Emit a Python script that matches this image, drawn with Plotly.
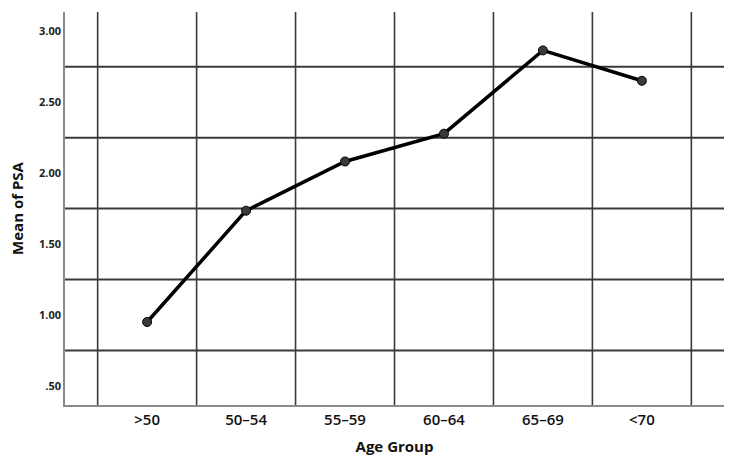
import plotly.graph_objects as go

categories = [">50", "50–54", "55–59", "60–64", "65–69", "<70"]
mean_psa = [0.95, 1.735, 2.082, 2.278, 2.865, 2.651]
y_tick_vals = [0.5, 1.0, 1.5, 2.0, 2.5, 3.0]
y_tick_text = [".50", "1.00", "1.50", "2.00", "2.50", "3.00"]
y_grid_vals = [0.75, 1.25, 1.75, 2.25, 2.75]

x_idx = list(range(len(categories)))
x_grid_vals = [i - 0.5 for i in range(len(categories) + 1)]

fig = go.Figure()
fig.add_trace(go.Scatter(
    x=x_idx, y=mean_psa, mode="lines+markers",
    line=dict(color="black", width=3.5),
    marker=dict(size=9, color="#3a3a3a", line=dict(color="black", width=1)),
    showlegend=False, hoverinfo="skip",
))

grid_color = "#3a3a3a"
shapes = []
for xv in x_grid_vals:
    shapes.append(dict(type="line", xref="x", yref="paper", x0=xv, x1=xv, y0=0, y1=1,
                       line=dict(color=grid_color, width=1.6), layer="below"))
for yv in y_grid_vals:
    shapes.append(dict(type="line", xref="paper", yref="y", x0=0, x1=1, y0=yv, y1=yv,
                       line=dict(color=grid_color, width=2), layer="below"))

font_family = "Open Sans, DejaVu Sans, sans-serif"

fig.update_layout(
    width=750, height=464,
    margin=dict(l=65, r=26, t=12, b=59),
    paper_bgcolor="white", plot_bgcolor="white",
    font=dict(family=font_family, color="#111"),
    shapes=shapes,
    xaxis=dict(
        range=[-0.83, 5.83],
        tickmode="array", tickvals=x_idx, ticktext=categories,
        tickfont=dict(size=15, color="#111", weight=600),
        showgrid=False, zeroline=False, ticks="",
        showline=True, linecolor="#8a8a8a", linewidth=1.5,
        title=dict(text="Age Group", font=dict(size=15, color="#111", weight="bold"), standoff=14),
        fixedrange=True,
    ),
    yaxis=dict(
        range=[0.365, 3.136],
        tickmode="array", tickvals=y_tick_vals, ticktext=y_tick_text,
        tickfont=dict(size=11, color="#222", weight="bold"),
        showgrid=False, zeroline=False, ticks="",
        showline=True, linecolor="#8a8a8a", linewidth=1.5,
        title=dict(text="Mean of PSA", font=dict(size=15, color="#111", weight="bold"), standoff=12),
        fixedrange=True,
    ),
)

fig.write_html("out.html")
